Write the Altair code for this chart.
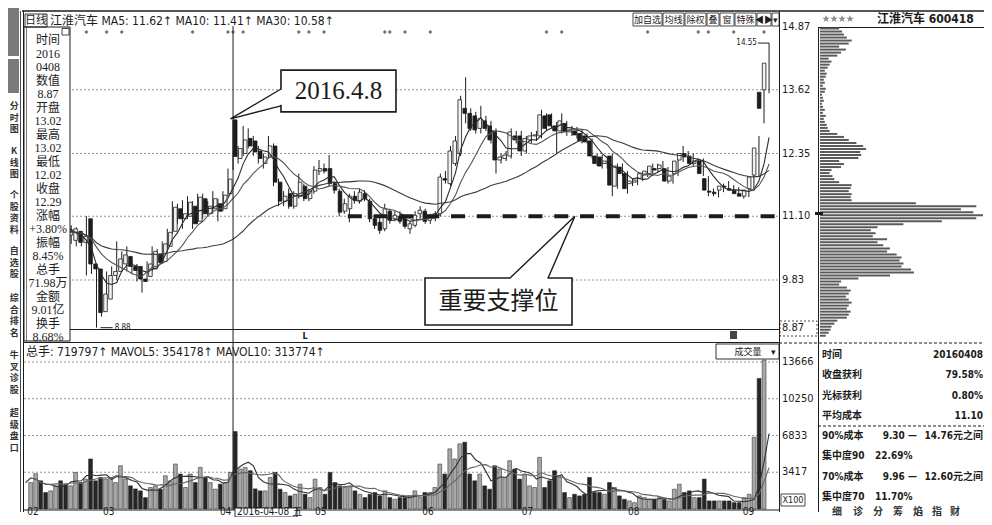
import altair as alt
import pandas as pd

# ---------------- data ----------------
OPEN = [10.55, 10.70, 10.85, 10.78, 10.62, 10.80, 10.95, 10.85, 10.72, 10.62,
        10.80, 10.58, 11.05, 10.15, 10.05, 9.20, 9.45, 9.92, 10.00, 10.15,
        10.30, 10.10, 10.10, 9.85, 9.90, 10.05, 10.35, 10.20, 10.50, 10.80,
        11.25, 11.05, 11.10, 11.30, 11.00, 11.45, 11.15, 11.25, 11.35, 11.25,
        11.55, 13.02, 12.25, 12.35, 12.65, 12.60, 12.40, 12.15, 12.30, 12.50,
        11.78, 11.40, 11.55, 11.30, 11.50, 11.70, 11.45, 11.60, 12.00, 12.05,
        12.05, 11.75, 11.60, 11.20, 11.25, 11.50, 11.40, 11.55, 11.40, 11.05,
        10.98, 10.85, 11.20, 11.05, 11.10, 11.05, 10.85, 10.92, 11.15, 11.20,
        11.02, 11.10, 11.15, 11.85, 11.75, 12.15, 12.35, 13.25, 13.15, 13.10,
        12.85, 13.00, 12.90, 12.80, 12.22, 12.25, 12.30, 12.70, 12.70, 12.40,
        12.62, 12.70, 12.70, 13.10, 13.12, 12.90, 12.80, 12.95, 12.78, 12.80,
        12.75, 12.70, 12.60, 12.30, 12.28, 12.15, 12.30, 11.70, 12.08, 11.95,
        11.75, 11.78, 11.85, 11.92, 11.95, 12.05, 12.05, 12.05, 11.80, 11.95,
        12.22, 12.35, 12.30, 12.15, 12.20, 11.85, 11.60, 11.58, 11.62, 11.70,
        11.65, 11.62, 11.55, 11.50, 11.65, 11.92, 13.57, 13.62]
HIGH = [10.75, 10.95, 11.00, 10.90, 10.85, 11.05, 11.10, 10.95, 10.90, 10.92,
        10.88, 10.80, 11.10, 10.30, 10.12, 9.65, 10.00, 10.10, 10.60, 10.40,
        10.50, 10.20, 10.15, 9.95, 10.20, 10.50, 10.45, 10.60, 10.85, 11.40,
        11.35, 11.42, 11.50, 11.40, 11.55, 11.55, 11.40, 11.60, 11.45, 11.60,
        12.05, 13.02, 12.50, 12.90, 12.85, 12.70, 12.50, 12.35, 12.70, 12.55,
        11.85, 11.60, 11.65, 11.60, 11.95, 11.75, 11.65, 12.10, 12.22, 12.15,
        12.32, 11.80, 11.65, 11.45, 11.55, 11.60, 11.65, 11.62, 11.45, 11.10,
        11.10, 11.35, 11.25, 11.20, 11.20, 11.10, 11.00, 11.20, 11.30, 11.25,
        11.15, 11.20, 11.95, 12.00, 12.50, 12.70, 13.50, 13.87, 13.25, 13.18,
        13.30, 13.10, 13.00, 12.85, 12.35, 12.40, 12.85, 12.80, 12.80, 12.70,
        12.78, 12.80, 13.22, 13.15, 13.15, 12.98, 13.15, 13.00, 12.90, 12.88,
        12.82, 12.75, 12.65, 12.35, 12.32, 12.25, 12.35, 12.15, 12.15, 12.00,
        11.85, 11.88, 11.98, 12.05, 12.15, 12.15, 12.20, 12.08, 11.95, 12.25,
        12.50, 12.40, 12.35, 12.25, 12.25, 11.90, 11.65, 11.65, 11.75, 11.80,
        11.72, 11.68, 11.60, 11.68, 11.95, 12.70, 13.78, 14.55]
LOW = [10.45, 10.60, 10.70, 10.55, 10.55, 10.75, 10.80, 10.65, 10.62, 10.55,
       10.50, 10.50, 9.92, 9.95, 8.88, 9.10, 9.40, 9.85, 9.83, 10.05,
       10.00, 9.95, 9.80, 9.58, 9.85, 10.00, 10.10, 10.15, 10.45, 10.75,
       10.95, 10.85, 11.05, 10.85, 10.95, 11.05, 11.10, 11.15, 11.00, 11.20,
       11.50, 12.02, 12.15, 12.30, 12.45, 12.30, 12.15, 12.05, 12.25, 11.70,
       11.30, 11.30, 11.25, 11.25, 11.45, 11.40, 11.40, 11.55, 11.92, 11.95,
       11.70, 11.55, 11.10, 11.15, 10.98, 11.35, 11.35, 11.40, 10.98, 10.85,
       10.75, 10.80, 10.95, 11.00, 10.95, 10.85, 10.75, 10.88, 11.05, 10.95,
       10.95, 11.00, 11.10, 11.75, 11.70, 12.10, 12.30, 12.95, 12.80, 12.75,
       12.75, 12.80, 12.55, 11.95, 12.15, 12.20, 12.25, 12.55, 12.30, 12.35,
       12.55, 12.60, 12.65, 12.80, 12.85, 12.35, 12.75, 12.70, 12.70, 12.65,
       12.55, 12.55, 12.25, 12.10, 12.05, 12.05, 11.50, 11.65, 11.90, 11.55,
       11.70, 11.72, 11.80, 11.88, 11.90, 11.98, 12.00, 11.75, 11.75, 11.90,
       12.18, 12.20, 12.10, 12.05, 11.90, 11.50, 11.50, 11.48, 11.58, 11.62,
       11.55, 11.50, 11.45, 11.48, 11.60, 11.88, 12.95, 13.55]
CLOSE = [10.70, 10.85, 10.78, 10.62, 10.80, 10.95, 10.85, 10.72, 10.82, 10.85,
         10.58, 10.70, 10.15, 10.05, 9.18, 9.55, 9.92, 10.00, 10.25, 10.33,
         10.10, 10.02, 9.85, 9.80, 10.15, 10.40, 10.18, 10.55, 10.78, 11.28,
         11.05, 11.15, 11.38, 10.95, 11.48, 11.15, 11.30, 11.45, 11.20, 11.52,
         11.84, 12.29, 12.45, 12.62, 12.50, 12.38, 12.25, 12.28, 12.50, 11.78,
         11.40, 11.50, 11.30, 11.55, 11.78, 11.45, 11.60, 12.02, 12.05, 12.00,
         11.75, 11.62, 11.18, 11.35, 11.50, 11.42, 11.58, 11.45, 11.05, 10.92,
         10.82, 11.25, 11.02, 11.12, 11.00, 10.90, 10.95, 11.12, 11.22, 11.00,
         11.10, 11.15, 11.88, 11.82, 12.40, 12.60, 13.42, 13.15, 12.85, 12.82,
         13.05, 12.85, 12.62, 12.22, 12.28, 12.32, 12.78, 12.62, 12.40, 12.65,
         12.70, 12.72, 13.12, 12.85, 12.90, 12.80, 13.00, 12.78, 12.82, 12.72,
         12.60, 12.58, 12.30, 12.15, 12.10, 12.20, 11.72, 12.10, 11.95, 11.65,
         11.80, 11.82, 11.95, 12.00, 12.10, 12.02, 12.12, 11.80, 11.90, 12.20,
         12.35, 12.28, 12.15, 12.20, 11.95, 11.62, 11.58, 11.55, 11.70, 11.68,
         11.62, 11.55, 11.50, 11.62, 11.88, 12.46, 13.25, 14.15]
VOLUME = [2460, 3280, 2620, 1530, 1685, 2150, 2620, 2310, 2150, 3400,
          2460, 2780, 4650, 2620, 2930, 2780, 2930, 2460, 4025, 2780,
          2150, 1870, 1685, 1060, 2000, 2150, 1840, 3090, 2620, 4180,
          3250, 2000, 3250, 2460, 3870, 2930, 2460, 1840, 2310, 2460,
          3400, 7198, 3720, 3870, 3557, 1870, 1685, 1685, 2930, 3400,
          1840, 1530, 1217, 1370, 2310, 1370, 1060, 2780, 2000, 1370,
          3400, 2460, 2150, 2000, 2150, 1685, 1370, 1060, 1370, 1530,
          1217, 1685, 1060, 900, 1060, 1060, 1217, 1685, 1060, 1530,
          1530, 2000, 4180, 3250, 5590, 4650, 6060, 6210, 3250, 2620,
          3250, 2150, 1840, 4025, 3720, 2930, 4490, 3720, 2780, 3250,
          2150, 2000, 4800, 2000, 2620, 3557, 2930, 1530, 1060, 1370,
          1217, 1370, 2930, 1530, 1530, 1370, 2460, 2000, 1217, 900,
          750, 590, 1217, 1060, 900, 900, 1060, 900, 750, 1840,
          2310, 1530, 1685, 1060, 1060, 2780, 750, 750, 750, 750,
          750, 590, 590, 1060, 1370, 6670, 12140, 13850]

PRICE_TICKS = [14.87, 13.62, 12.35, 11.10, 9.83, 8.87]
PRICE_GRID = [13.62, 12.35, 11.10, 9.83]
VOL_TICKS = [13666, 10250, 6833, 3417]
MONTH_LABELS = ["02", "03", "04", "05", "06", "07", "08", "09"]
MONTH_POS = [0.3, 15.3, 38.4, 57.2, 78.4, 98.1, 119.1, 141.8]
EVENT_IDX = [12, 16, 19, 33, 40, 41, 43, 54, 56, 59, 71, 72, 75, 80, 103, 106, 123, 133, 135, 140, 146]
SUPPORT = 11.10
SUPPORT_FROM, SUPPORT_TO = 63.7, 148.8
CROSS_IDX = 41
LOW_MARK = (14, 8.88)
HIGH_MARK = (147, 14.55)

CHIP_START, CHIP_STEP = 8.72, 0.06
CHIP = [6, 9, 11, 12, 15, 18, 28, 30, 32, 28, 30, 33, 30, 27, 30, 32, 28, 20, 22, 40,
        73, 98, 95, 85, 87, 83, 85, 80, 70, 73, 66, 60, 70, 55, 58, 53, 60, 87, 127, 163,
        170, 160, 147, 163, 100, 33, 32, 33, 30, 32, 33, 20, 15, 13, 10, 12, 22, 25, 20, 40,
        43, 42, 48, 45, 38, 30, 25, 18, 10, 8, 7, 5, 4, 6, 3, 5, 3, 2, 4, 3,
        2, 5, 6, 3, 5, 4, 6, 7, 5, 8, 10, 12, 9, 18, 22, 27, 20, 30, 33, 28,
        25, 23, 20]

INFO_LINES = ["时间", "2016", "0408", "数值", "8.87", "开盘", "13.02", "最高", "13.02",
              "最低", "12.02", "收盘", "12.29", "涨幅", "+3.80%", "振幅", "8.45%",
              "总手", "71.98万", "金额", "9.01亿", "换手", "8.68%"]
HEADER = "江淮汽车 MA5: 11.62↑ MA10: 11.41↑ MA30: 10.58↑"
VOL_HEADER = "总手: 719797↑ MAVOL5: 354178↑ MAVOL10: 313774↑"
TABLE_LABELS = ["时间", "收盘获利", "光标获利", "平均成本", "90%成本", "集中度90", "70%成本", "集中度70"]
TABLE_RIGHT = ["20160408", "79.58%", "0.80%", "11.10", "14.76元之间", "", "12.60元之间", ""]
TABLE_MID = ["", "", "", "", "9.30 —", "22.69%", "9.96 —", "11.70%"]
BUTTONS = ["加自选", "均线", "除权", "叠", "窗", "特殊", "◀▶", "▾"]
SIDEBAR = ["分时图", "K线图", "个股资料", "自选股", "综合排名", "牛叉诊股", "超级盘口"]
TABS = ["细", "诊", "分", "筹", "焰", "指", "财"]

# ---------------- layout / style ----------------
OFF = 8
def P(v):
    return v - OFF

W, H = 976, 509
INK = "#1c1c1c"
NARROW = "Liberation Sans Narrow, DejaVu Sans Condensed, Liberation Sans, sans-serif"
CJK = "Noto Sans CJK SC, sans-serif"
MIXED = "Liberation Sans Narrow, DejaVu Sans Condensed, Liberation Sans, Noto Sans CJK SC, sans-serif"
SERIFMIX = "Liberation Serif, Noto Sans CJK SC, serif"

N = len(OPEN)
xs = alt.Scale(domain=[-0.5, N - 0.5], range=[P(23.17), P(771.6)], zero=False, nice=False)
ps = alt.Scale(domain=[8.87, 14.87], range=[P(328.2), P(27)], zero=False, nice=False)
vs = alt.Scale(domain=[0, 13666], range=[P(509), P(362)], zero=False, nice=False)
cs = alt.Scale(domain=[0, 170], range=[P(820), P(983)], zero=False, nice=False)

ONE = pd.DataFrame({"o": [0]})


def box(x0, y0, x1, y1, stroke=INK, sw=1.0, fill=None, dash=None):
    kw = {}
    if fill is None:
        kw["fill"] = "white"
        kw["fillOpacity"] = 0
    else:
        kw["fill"] = fill
    if sw > 0:
        kw["stroke"] = stroke
        kw["strokeWidth"] = sw
    else:
        kw["strokeWidth"] = 0
    if dash:
        kw["strokeDash"] = dash
    return alt.Chart(ONE).mark_rect(**kw).encode(
        x=alt.value(P(x0)), x2=alt.value(P(x1)), y=alt.value(P(y0)), y2=alt.value(P(y1)))


def seg(x0, y0, x1, y1, color=INK, sw=1.0, dash=None):
    kw = dict(color=color, strokeWidth=sw)
    if dash:
        kw["strokeDash"] = dash
    return alt.Chart(ONE).mark_rule(**kw).encode(
        x=alt.value(P(x0)), x2=alt.value(P(x1)), y=alt.value(P(y0)), y2=alt.value(P(y1)))


def txt(x, y, s, size=11, font=CJK, align="left", baseline="middle", color=INK, weight="normal", **extra):
    return alt.Chart(ONE).mark_text(text=s, fontSize=size, font=font, align=align, baseline=baseline,
                                    color=color, fontWeight=weight, **extra).encode(
        x=alt.value(P(x)), y=alt.value(P(y)))


days = pd.DataFrame({"i": list(range(N)), "open": OPEN, "high": HIGH, "low": LOW,
                     "close": CLOSE, "vol": VOLUME})
days["zero"] = 0
base = alt.Chart(days)
XI = alt.X("i:Q", scale=xs, axis=None)
UP = "datum.close >= datum.open"

layers = []

# ---- frame / sidebar ----
layers += [
    box(8, 3, 19, 56, fill="#7a7a7a", sw=0),
    box(8, 59, 19, 93, fill="#7a7a7a", sw=0),
    seg(22, 11, 992, 11, sw=1.6),
    seg(20.5, 11, 20.5, 512, sw=0.8),
    seg(23.5, 11, 23.5, 512, sw=1),
    seg(779.5, 11, 779.5, 512, sw=1),
    seg(818.5, 27, 818.5, 512, sw=1),
    seg(818, 27.5, 992, 27.5, sw=1),
    seg(23, 329.5, 779, 329.5, sw=1),
    seg(23, 342.5, 779, 342.5, sw=1.2),
    seg(23, 510, 779, 510, sw=1),
    seg(779, 343, 992, 343, sw=1, dash=[3, 2]),
    seg(818, 426, 992, 426, sw=1, dash=[3, 2]),
]
side_y = [108, 153, 197, 253, 300, 357, 415]
for s, y in zip(SIDEBAR, side_y):
    layers.append(txt(14.2, y - 6, "\n".join(s), size=9, baseline="top", weight="bold",
                      color="#333", align="center", lineBreak="\n", lineHeight=11.7))

# ---- grids ----
pg = pd.DataFrame({"p": PRICE_GRID})
layers.append(alt.Chart(pg).mark_rule(color="#7a7a7a", strokeWidth=0.8, strokeDash=[2, 2]).encode(
    y=alt.Y("p:Q", scale=ps, axis=None), x=alt.value(P(24)), x2=alt.value(P(779))))
vg = pd.DataFrame({"v": VOL_TICKS})
layers.append(alt.Chart(vg).mark_rule(color="#7a7a7a", strokeWidth=0.8, strokeDash=[2, 2]).encode(
    y=alt.Y("v:Q", scale=vs, axis=None), x=alt.value(P(24)), x2=alt.value(P(779))))

# ---- volume ----
layers.append(base.mark_bar(size=3.8, strokeWidth=0.6).encode(
    x=XI, y=alt.Y("vol:Q", scale=vs, axis=None), y2="zero:Q",
    fill=alt.condition(UP, alt.value("#a8a8a8"), alt.value("#262626")),
    stroke=alt.condition(UP, alt.value("#3a3a3a"), alt.value("#262626"))))
for n, col in [(5, "#333333"), (10, "#666666")]:
    layers.append(base.transform_window(mv="mean(vol)", frame=[-(n - 1), 0], sort=[alt.SortField("i")])
                  .mark_line(color=col, strokeWidth=1.1).encode(
        x=XI, y=alt.Y("mv:Q", scale=vs, axis=None)))

# ---- candles ----
layers.append(base.mark_rule(color=INK, strokeWidth=1).encode(
    x=XI, y=alt.Y("low:Q", scale=ps, axis=None), y2="high:Q"))
layers.append(base.mark_bar(size=3.6, stroke=INK, strokeWidth=0.8).encode(
    x=XI, y=alt.Y("open:Q", scale=ps, axis=None), y2="close:Q",
    fill=alt.condition(UP, alt.value("#f2f2f2"), alt.value(INK))))
for n, col in [(5, "#2a2a2a"), (10, "#555555"), (30, "#3a3a3a")]:
    layers.append(base.transform_window(ma="mean(close)", frame=[-(n - 1), 0], sort=[alt.SortField("i")])
                  .mark_line(color=col, strokeWidth=1.1).encode(
        x=XI, y=alt.Y("ma:Q", scale=ps, axis=None)))

# ---- support line ----
sup = pd.DataFrame({"p": [SUPPORT], "a": [SUPPORT_FROM], "b": [SUPPORT_TO]})
layers.append(alt.Chart(sup).mark_rule(color=INK, strokeWidth=4, strokeDash=[14, 11.8]).encode(
    y=alt.Y("p:Q", scale=ps, axis=None), x=alt.X("a:Q", scale=xs, axis=None), x2="b:Q"))

# ---- crosshair ----
cross = pd.DataFrame({"i": [CROSS_IDX]})
layers.append(alt.Chart(cross).mark_rule(color=INK, strokeWidth=1).encode(
    x=alt.X("i:Q", scale=xs, axis=None), y=alt.value(P(26)), y2=alt.value(P(510))))

# ---- event dots ----
ev = pd.DataFrame({"i": EVENT_IDX})
layers.append(alt.Chart(ev).mark_point(shape="diamond", filled=True, size=16, color="#333").encode(
    x=alt.X("i:Q", scale=xs, axis=None), y=alt.value(P(32))))

# ---- low / high markers ----
lm = pd.DataFrame({"a": [LOW_MARK[0] + 0.8], "b": [LOW_MARK[0] + 3.2], "p": [LOW_MARK[1]]})
layers.append(alt.Chart(lm).mark_rule(color=INK, strokeWidth=1).encode(
    x=alt.X("a:Q", scale=xs, axis=None), x2="b:Q", y=alt.Y("p:Q", scale=ps, axis=None)))
layers.append(alt.Chart(lm).mark_text(align="left", baseline="middle", fontSize=8, font=NARROW, color=INK, dx=2,
                                      text=f"{LOW_MARK[1]:.2f}").encode(
    x=alt.X("b:Q", scale=xs, axis=None), y=alt.Y("p:Q", scale=ps, axis=None)))
hm = pd.DataFrame({"a": [HIGH_MARK[0] - 2.2], "b": [HIGH_MARK[0]], "p": [HIGH_MARK[1]]})
layers.append(alt.Chart(hm).mark_rule(color=INK, strokeWidth=1).encode(
    x=alt.X("a:Q", scale=xs, axis=None), x2="b:Q", y=alt.Y("p:Q", scale=ps, axis=None)))
layers.append(alt.Chart(hm).mark_text(align="right", baseline="middle", fontSize=8, font=NARROW, color=INK, dx=-1,
                                      text=f"{HIGH_MARK[1]:.2f}").encode(
    x=alt.X("a:Q", scale=xs, axis=None), y=alt.Y("p:Q", scale=ps, axis=None)))

# ---- left info box ----
layers.append(box(24, 27, 70, 341, fill="white", sw=1))
layers.append(seg(26.5, 27, 26.5, 341, sw=0.6))
layers.append(box(62, 28.5, 69, 35, sw=0.8))
info = pd.DataFrame({"k": list(range(len(INFO_LINES))), "t": INFO_LINES})
layers.append(alt.Chart(info).mark_text(font=SERIFMIX, fontSize=12, color=INK, baseline="middle").encode(
    x=alt.value(P(48)), y=alt.Y("k:Q", scale=alt.Scale(domain=[0, len(INFO_LINES) - 1], range=[P(40), P(337)]), axis=None),
    text="t:N"))

# ---- callouts (data coordinates: day index, price) ----
cb = pd.DataFrame({"x0": [50.48, 78.96], "x1": [73.22, 108.03], "y0": [14.01, 9.87], "y1": [13.18, 8.934]})
layers.append(alt.Chart(cb).mark_rect(fill="white", stroke=INK, strokeWidth=1.6).encode(
    x=alt.X("x0:Q", scale=xs, axis=None), x2="x1:Q", y=alt.Y("y0:Q", scale=ps, axis=None), y2="y1:Q"))
gaps = pd.DataFrame({"x0": [50.48, 95.9], "x1": [50.48, 103.2], "y0": [13.62, 9.87], "y1": [13.32, 9.87]})
layers.append(alt.Chart(gaps).mark_rule(color="white", strokeWidth=2.6).encode(
    x=alt.X("x0:Q", scale=xs, axis=None), x2="x1:Q", y=alt.Y("y0:Q", scale=ps, axis=None), y2="y1:Q"))
wedge = pd.DataFrame({
    "g": [1, 1, 1, 2, 2, 2], "s": [0, 1, 2, 0, 1, 2],
    "i": [50.48, 40.5, 50.48, 95.77, 108.6, 103.3],
    "p": [13.635, 13.04, 13.30, 9.87, 11.10, 9.87]})
layers.append(alt.Chart(wedge).mark_line(color=INK, strokeWidth=1.4).encode(
    x=alt.X("i:Q", scale=xs, axis=None), y=alt.Y("p:Q", scale=ps, axis=None), detail="g:N", order="s:Q"))
ct = pd.DataFrame({"i": [61.86], "p": [13.595], "t": ["2016.4.8"]})
layers.append(alt.Chart(ct).mark_text(font="Liberation Serif, DejaVu Serif, serif", fontSize=25, color=INK).encode(
    x=alt.X("i:Q", scale=xs, axis=None), y=alt.Y("p:Q", scale=ps, axis=None), text="t:N"))
ct2 = pd.DataFrame({"i": [93.49], "p": [9.392], "t": ["重要支撑位"]})
layers.append(alt.Chart(ct2).mark_text(font=CJK, fontSize=24, color=INK).encode(
    x=alt.X("i:Q", scale=xs, axis=None), y=alt.Y("p:Q", scale=ps, axis=None), text="t:N"))

# ---- axis labels ----
pt = pd.DataFrame({"p": PRICE_TICKS})
layers.append(alt.Chart(pt).mark_text(align="left", baseline="middle", font=NARROW, fontSize=11, color=INK).encode(
    y=alt.Y("p:Q", scale=ps, axis=None), x=alt.value(P(782)), text=alt.Text("p:Q", format=".2f")))
layers.append(box(780, 321, 817, 336, sw=0.8, dash=[2, 2]))
vt = pd.DataFrame({"v": VOL_TICKS})
layers.append(alt.Chart(vt).mark_text(align="left", baseline="middle", font=NARROW, fontSize=11, color=INK).encode(
    y=alt.Y("v:Q", scale=vs, axis=None), x=alt.value(P(782)), text=alt.Text("v:Q", format="d")))
layers.append(box(781, 494, 805, 506, sw=0.8))
layers.append(txt(793, 500, "X100", size=9, font=NARROW, align="center"))
mt = pd.DataFrame({"pos": MONTH_POS, "t": MONTH_LABELS})
layers.append(alt.Chart(mt).mark_text(align="left", baseline="bottom", font=NARROW, fontSize=10, color=INK).encode(
    x=alt.X("pos:Q", scale=xs, axis=None), y=alt.value(P(517)), text="t:N"))
layers.append(box(235, 508, 297, 517, sw=0.9, fill="white"))
layers.append(txt(237, 517, "2016-04-08 五", size=10, font=MIXED, baseline="bottom"))

# ---- headers ----
layers.append(box(25, 14, 47, 27, sw=0.9))
layers.append(txt(36, 21, "日线", size=11, align="center"))
layers.append(txt(50, 21, HEADER, size=12, font=MIXED))
btn_x = [(633, 662), (663, 684), (685, 706), (707, 719), (720, 734), (735, 756), (757, 771), (772, 779)]
for label, (a, b) in zip(BUTTONS, btn_x):
    layers.append(box(a, 13, b, 26, sw=0.8, fill="white"))
    layers.append(txt((a + b) / 2, 19.5, label, size=9, align="center"))
layers.append(txt(26, 352, VOL_HEADER, size=12, font=MIXED))
layers.append(box(716, 344, 779, 359, sw=0.9, fill="white"))
layers.append(txt(748, 351.5, "成交量", size=9, align="center"))
layers.append(txt(773, 351.5, "▾", size=9, align="center"))
layers.append(txt(305, 335.5, "L", size=9, font=NARROW, align="center", weight="bold"))
layers.append(box(730, 331, 737, 339, fill="#444", sw=0))

# ---- chip distribution panel ----
chip = pd.DataFrame({"p": [CHIP_START + CHIP_STEP * k for k in range(len(CHIP))], "v": CHIP})
chip["z"] = 0
layers.append(alt.Chart(chip).mark_rule(color="#5a5a5a", strokeWidth=2).encode(
    y=alt.Y("p:Q", scale=ps, axis=None), x=alt.X("z:Q", scale=cs, axis=None), x2="v:Q"))
layers.append(box(815, 212, 823, 215, fill=INK, sw=0))
layers.append(txt(822, 19, "★★★★", size=8, color="#888", font=CJK))
layers.append(txt(877, 19, "江淮汽车 600418", size=12, font=MIXED, weight="bold"))

tbl = pd.DataFrame({"k": list(range(len(TABLE_LABELS))), "l": TABLE_LABELS, "r": TABLE_RIGHT, "m": TABLE_MID})
TY = alt.Y("k:Q", scale=alt.Scale(domain=[0, len(TABLE_LABELS) - 1], range=[P(355), P(497)]), axis=None)
layers.append(alt.Chart(tbl).mark_text(align="left", baseline="middle", font=MIXED, fontSize=10,
                                       fontWeight="bold", color=INK).encode(
    x=alt.value(P(822)), y=TY, text="l:N"))
layers.append(alt.Chart(tbl).mark_text(align="right", baseline="middle", font=MIXED, fontSize=10,
                                       fontWeight="bold", color=INK).encode(
    x=alt.value(P(983)), y=TY, text="r:N"))
layers.append(alt.Chart(tbl).transform_filter("datum.k == 4 || datum.k == 6").mark_text(
    align="right", baseline="middle", font=MIXED, fontSize=10, fontWeight="bold", color=INK).encode(
    x=alt.value(P(917)), y=TY, text="m:N"))
layers.append(alt.Chart(tbl).transform_filter("datum.k == 5 || datum.k == 7").mark_text(
    align="left", baseline="middle", font=MIXED, fontSize=10, fontWeight="bold", color=INK).encode(
    x=alt.value(P(875)), y=TY, text="m:N"))
tab_x = [837, 858, 878, 898, 918, 937, 955]
for t, x in zip(TABS, tab_x):
    layers.append(txt(x, 517, t, size=10, align="center", baseline="bottom", weight="bold", color="#333"))

chart = alt.layer(*layers).resolve_scale(x="independent", y="independent").properties(
    width=W, height=H, autosize=alt.AutoSizeParams(type="none"), padding=0, background="white"
).configure_view(strokeWidth=0)

chart.save("out.html", embed_options={"renderer": "svg", "actions": False})
